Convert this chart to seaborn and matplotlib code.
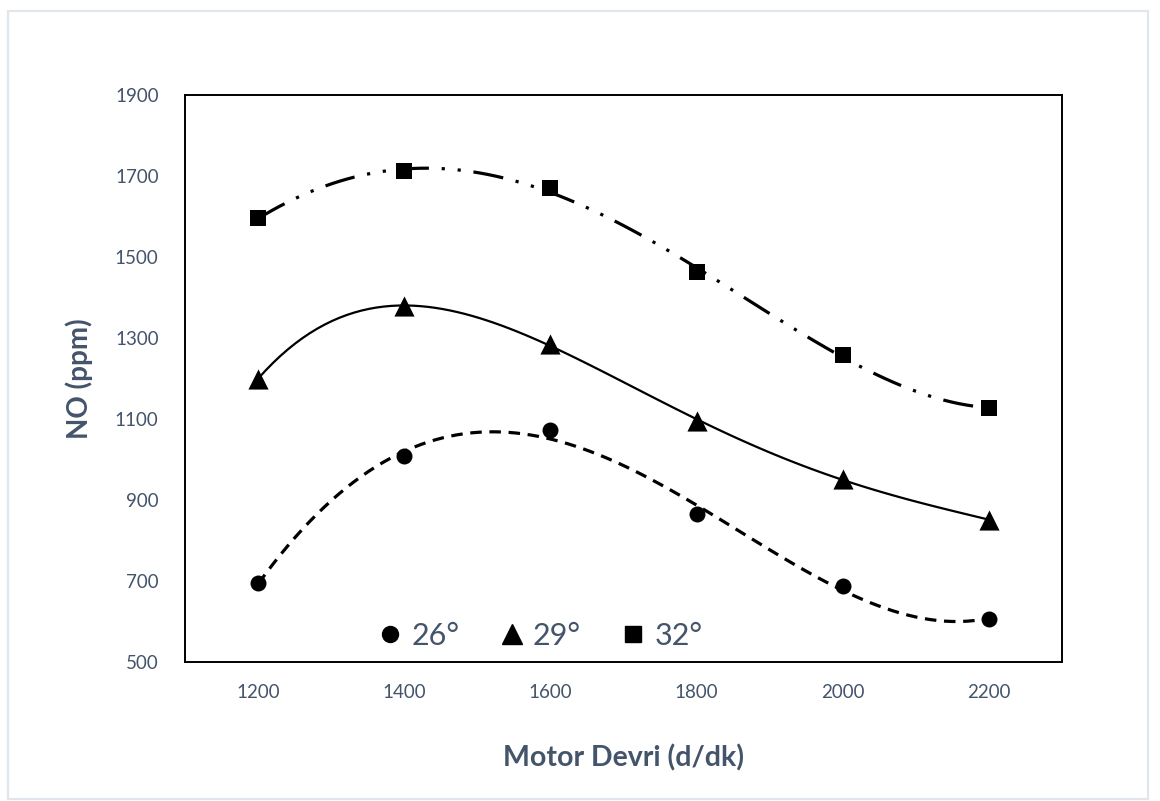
import matplotlib
matplotlib.use("Agg")
import matplotlib.pyplot as plt
from matplotlib.lines import Line2D
from matplotlib.patches import Rectangle
import seaborn as sns
import pandas as pd

# Engine speed (rpm) and NO emission (ppm) for three injection advance angles
speed = [1200, 1400, 1600, 1800, 2000, 2200]
no_26 = [695, 1009, 1073, 865, 688, 606]
no_29 = [1200, 1378, 1285, 1095, 952, 851]
no_32 = [1596, 1712, 1670, 1463, 1258, 1127]
series_labels = ["26°", "29°", "32°"]
x_ticks = [1200, 1400, 1600, 1800, 2000, 2200]
y_ticks = [500, 700, 900, 1100, 1300, 1500, 1700, 1900]

sns.set_theme(style="white")
plt.rcParams["font.family"] = ["Lato", "DejaVu Sans"]

TEXT = "#44546A"

fig = plt.figure(figsize=(11.6, 8.01), dpi=100)
ax = fig.add_axes([0.1595, 0.1735, 0.756, 0.7079])

styles = [
    dict(y=no_26, marker="o", ms=11.5, lw=2.3, dashes=(3.6, 2.4)),
    dict(y=no_29, marker="^", ms=14.5, lw=1.6, dashes=None),
    dict(y=no_32, marker="s", ms=11.0, lw=2.3, dashes=(9.5, 4.0, 1.0, 4.0, 1.0, 4.0)),
]

for st in styles:
    df = pd.DataFrame({"speed": speed, "no": st["y"]})
    line_kws = dict(color="black", lw=st["lw"], solid_capstyle="butt")
    if st["dashes"] is not None:
        line_kws["dashes"] = st["dashes"]
        line_kws["dash_capstyle"] = "butt"
    # 4th order polynomial trendline through the measured points
    sns.regplot(data=df, x="speed", y="no", order=4, ci=None, truncate=True,
                ax=ax, marker=st["marker"],
                scatter_kws=dict(color="black", s=st["ms"] ** 2, alpha=1,
                                 linewidths=0, zorder=3),
                line_kws=line_kws)

ax.set_xlim(1100, 2300)
ax.set_ylim(500, 1900)
ax.set_xticks(x_ticks)
ax.set_yticks(y_ticks)
ax.tick_params(axis="both", length=0, labelsize=13.5, labelcolor=TEXT)
ax.tick_params(axis="x", pad=16)
ax.tick_params(axis="y", pad=19)
for sp in ax.spines.values():
    sp.set_visible(True)
    sp.set_color("black")
    sp.set_linewidth(1.4)

ax.set_xlabel("Motor Devri (d/dk)", fontsize=20.5, fontweight="bold", color=TEXT, labelpad=31)
ax.set_ylabel("NO (ppm)", fontsize=20, fontweight="bold", color=TEXT, labelpad=16)

handles = [
    Line2D([], [], color="black", marker="o", ls="none", ms=11.5),
    Line2D([], [], color="black", marker="^", ms=14.5, ls="none"),
    Line2D([], [], color="black", marker="s", ms=11.0, ls="none"),
]
leg = ax.legend(handles, series_labels, loc="center", bbox_to_anchor=(0.405, 0.046),
                ncol=3, frameon=False, fontsize=22, handlelength=0.8,
                handletextpad=0.3, columnspacing=1.3, labelcolor=TEXT)

# light page frame around the chart
fig.patches.append(Rectangle((8 / 1160, 1 - 799 / 801), 1140 / 1160, 788 / 801,
                             transform=fig.transFigure, fill=False,
                             edgecolor="#E1E5EC", lw=1.6))

fig.savefig("out.png", dpi=100, facecolor="white")
